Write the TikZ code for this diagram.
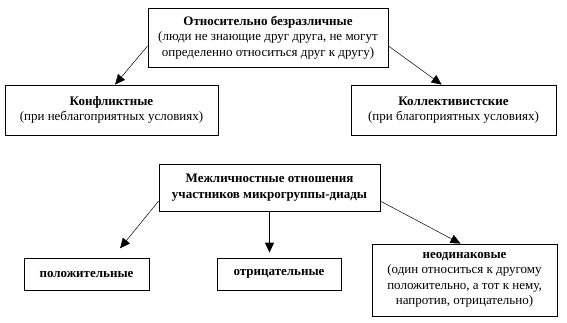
\documentclass[tikz,border=0pt]{standalone}
\usepackage{fontspec}
\setmainfont{Liberation Serif}
\usetikzlibrary{arrows.meta,positioning}

\begin{document}
\begin{tikzpicture}[
    x=1pt, y=-1pt,
    box/.style={rectangle, draw, line width=0.8pt, align=center, inner sep=0pt,
                font=\fontsize{13}{15.5}\selectfont},
    arrow/.style={-{Triangle[length=10pt,width=9pt]}, line width=0.5pt},
    bigarrow/.style={arrow, line width=1.2pt}
  ]
    \fill[white] (0,0) rectangle (567,323);
    \useasboundingbox (0,0) rectangle (567,323);

    % upper group
    \node[box, minimum width=240pt, minimum height=59pt] (indiff) at (268,37.5)
      {\textbf{Относительно безразличные}\\
       (люди не знающие друг друга, не могут\\
       определенно относиться друг к другу)};

    \node[box, minimum width=213pt, minimum height=50pt] (conflict) at (111.5,110)
      {\textbf{Конфликтные}\\
       (при неблагоприятных условиях)};

    \node[box, minimum width=205pt, minimum height=50pt] (collect) at (453.5,110)
      {\textbf{Коллективистские}\\
       (при благоприятных условиях)};

    \draw[arrow] (indiff.184) -- (conflict.82);
    \draw[arrow] (indiff.356) -- (collect.115);

    % lower group
    \node[box, minimum width=221pt, minimum height=47pt] (dyad) at (269.5,187.5)
      {\textbf{Межличностные отношения}\\
       \textbf{участников микрогруппы-диады}};

    \node[box, minimum width=125pt, minimum height=32pt] (positive) at (86.5,274)
      {\textbf{положительные}};

    \node[box, minimum width=124pt, minimum height=32pt] (negative) at (279,274)
      {\textbf{отрицательные}};

    \node[box, minimum width=185pt, minimum height=72pt] (unequal) at (464.5,280)
      {\textbf{неодинаковые}\\
       (один относиться к другому\\
       положительно, а тот к нему,\\
       напротив, отрицательно)};

    \draw[arrow, shorten >=12pt] (dyad.187) -- ([xshift=26pt]positive.north);
    \draw[bigarrow, shorten >=5pt] (dyad.south) -- (dyad.south |- negative.north);
    \draw[arrow] (dyad.353) -- ([xshift=-4pt]unequal.north);
\end{tikzpicture}
\end{document}
